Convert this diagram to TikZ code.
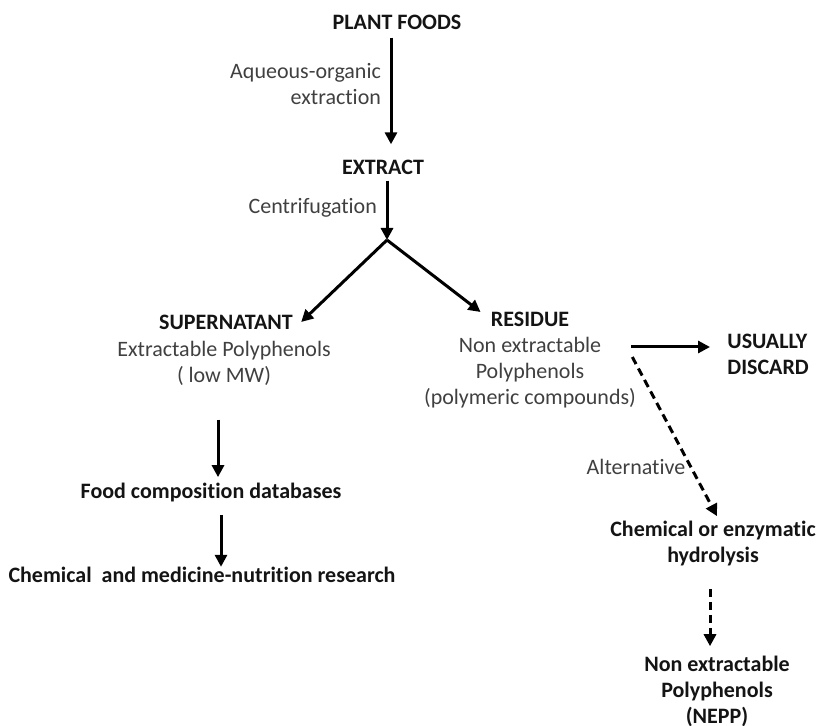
\documentclass[tikz,border=0pt]{standalone}
\usepackage{fontspec}
\setmainfont{Carlito}[Ligatures=NoCommon]
\usepackage{tikz}
\usetikzlibrary{arrows.meta, positioning}
\definecolor{mydark}{RGB}{20,20,20}
\definecolor{mygray}{RGB}{64,64,64}
\tikzset{
  headnode/.style={font=\fontsize{11}{13}\selectfont\bfseries, text=mydark,
    align=center, inner sep=2pt},
  textnode/.style={font=\fontsize{11}{13}\selectfont, text=mygray,
    align=center, inner sep=2pt},
  arrow/.style={-{Triangle[length=6pt,width=6pt]}, line width=1.5pt, color=black},
  dasharrow/.style={arrow, dash pattern=on 4pt off 2.5pt}
}

\begin{document}
\begin{tikzpicture}[x=0.5pt, y=-0.5pt]
  \useasboundingbox (0,0) rectangle (817,726);

  \node[headnode] (plant) at (397,22) {PLANT FOODS};
  \node[headnode] (extract) at (383,167) {EXTRACT};
  \coordinate (split) at (387,240);

  \node[headnode] (super) at (226,322) {SUPERNATANT};
  \node[textnode] (superinfo) at (224,363) {Extractable Polyphenols\\( low MW)};
  \node[headnode] (residue) at (530,319) {RESIDUE};
  \node[textnode] (resinfo) at (530,373) {Non extractable\\Polyphenols\\(polymeric compounds)};
  \node[headnode, align=left, anchor=west] (discard) at (723,354) {USUALLY\\DISCARD};

  \node[headnode] (fooddb) at (211,493) {Food composition databases};
  \node[headnode] (research) at (202,575) {Chemical~ and medicine-nutrition research};

  \node[headnode] (hydro) at (713,544) {Chemical or enzymatic\\hydrolysis};
  \node[headnode] (nepp) at (717,691) {Non extractable\\Polyphenols\\(NEPP)};

  \draw[arrow] ([xshift=-3pt,yshift=-2pt]plant.south) -- ([xshift=4pt,yshift=5.5pt]extract.north)
    node[textnode, pos=0.43, left=2.3pt, align=right] (aqueous) {Aqueous-organic\\extraction};
  \draw[arrow] ([xshift=2pt,yshift=-1pt]extract.south) -- (split)
    node[textnode, pos=0.45, left=2.3pt] (centri) {Centrifugation};
  \draw[arrow] (split) -- ([xshift=2pt]super.east);
  \draw[arrow] (split) -- ([xshift=-3pt,yshift=3.5pt]residue.west);
  \draw[arrow] ([xshift=-4.5pt,yshift=13pt]resinfo.east) -- ([xshift=-6.5pt,yshift=3.5pt]discard.west);
  \draw[dasharrow] ([xshift=-4pt,yshift=8pt]resinfo.east) -- ([xshift=2pt,yshift=0.5pt]hydro.north)
    node[textnode, pos=0.69, left=0pt] (alt) {Alternative};
  \draw[dasharrow] ([xshift=-1.5pt,yshift=-9pt]hydro.south) -- ([xshift=-3.5pt,yshift=2.5pt]nepp.north);

  \draw[arrow] ([xshift=-3pt,yshift=-15pt]superinfo.south) -- ([xshift=3.5pt,yshift=1pt]fooddb.north);
  \draw[arrow] ([xshift=5pt,yshift=-4pt]fooddb.south) -- ([xshift=9.5pt,yshift=-2pt]research.north);
\end{tikzpicture}
\end{document}
